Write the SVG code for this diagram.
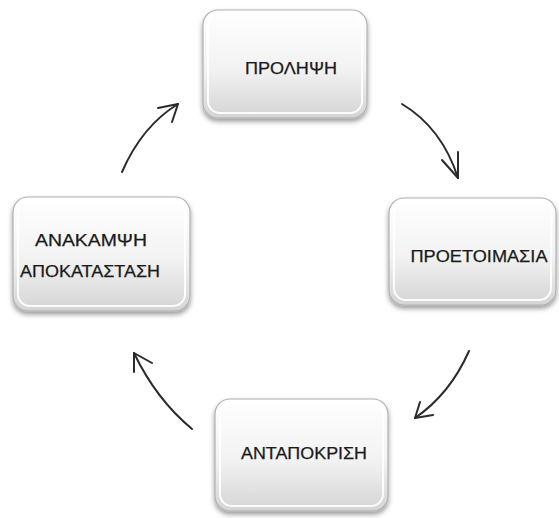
<svg xmlns="http://www.w3.org/2000/svg" width="559" height="518" viewBox="0 0 559 518">
<defs>
<linearGradient id="g" x1="0" y1="0" x2="0" y2="1">
<stop offset="0" stop-color="#ffffff"/>
<stop offset="0.55" stop-color="#f2f2f2"/>
<stop offset="1" stop-color="#d4d4d4"/>
</linearGradient>
<filter id="sh" x="-20%" y="-20%" width="140%" height="150%">
<feDropShadow dx="0" dy="3" stdDeviation="2.5" flood-color="#000" flood-opacity="0.4"/>
</filter>
</defs>
<style>
.box{fill:url(#g);stroke:#b0b0b0;stroke-width:1.2;filter:url(#sh)}
.in{fill:none;stroke:#ffffff;stroke-width:2;opacity:0.9}
.t{font-family:"Liberation Sans",Arial,sans-serif;font-size:16px;fill:#1a1a1a;stroke:#1a1a1a;stroke-width:0.25;text-anchor:middle}
.a{fill:none;stroke:#2b2b2b;stroke-width:2;stroke-linecap:round;stroke-linejoin:round}
</style>
<rect width="559" height="518" fill="#ffffff"/>
<g id="n1">
<rect class="box" x="203" y="10" width="164" height="108" rx="15"/>
<rect class="in" x="208" y="14" width="154" height="99" rx="12"/>
<text class="t" x="291" y="74" textLength="92" lengthAdjust="spacingAndGlyphs">ΠΡΟΛΗΨΗ</text>
</g>
<g id="n2">
<rect class="box" x="389" y="198" width="167" height="107" rx="15"/>
<rect class="in" x="394" y="202" width="157" height="98" rx="12"/>
<text class="t" x="479" y="262" textLength="137" lengthAdjust="spacingAndGlyphs">ΠΡΟΕΤΟΙΜΑΣΙΑ</text>
</g>
<g id="n3">
<rect class="box" x="215" y="399" width="173" height="112" rx="15"/>
<rect class="in" x="220" y="403" width="163" height="103" rx="12"/>
<text class="t" x="304" y="459" textLength="126" lengthAdjust="spacingAndGlyphs">ΑΝΤΑΠΟΚΡΙΣΗ</text>
</g>
<g id="n4">
<rect class="box" x="13" y="197" width="177" height="114" rx="15"/>
<rect class="in" x="18" y="201" width="167" height="105" rx="12"/>
<text class="t" x="91" y="246" textLength="112" lengthAdjust="spacingAndGlyphs">ΑΝΑΚΑΜΨΗ</text>
<text class="t" x="90" y="277" textLength="140" lengthAdjust="spacingAndGlyphs">ΑΠΟΚΑΤΑΣΤΑΣΗ</text>
</g>
<g id="connectors">
<path class="a" d="M122,172 Q142,126 178,104"/>
<path class="a" d="M158,108 L178,104 L172,122"/>
<path class="a" d="M402,104 Q442,128 458,178"/>
<path class="a" d="M442,160 L458,178 L458,152"/>
<path class="a" d="M469,351 Q450,394 415,418"/>
<path class="a" d="M433,415 L415,418 L420,402"/>
<path class="a" d="M192,429 Q156,399 134,353"/>
<path class="a" d="M152,363 L134,353 L134,372"/>
</g>
</svg>
